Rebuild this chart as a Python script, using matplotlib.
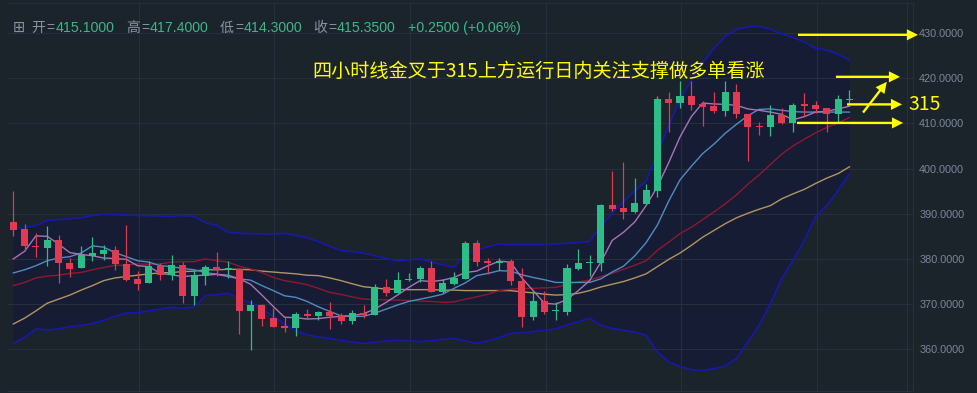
import matplotlib
matplotlib.use("Agg")
import matplotlib.pyplot as plt
import numpy as np
from matplotlib.ticker import FormatStrFormatter

# ---- 4H candles (open / high / low / close) ----
opens = [388.07, 386.52, 382.96, 382.52, 384.30, 379.19, 377.93, 380.67, 381.19, 382.00,
         378.89, 375.63, 374.59, 378.52, 376.37, 378.74, 371.85, 376.30, 378.30, 377.48,
         377.78, 368.52, 369.85, 366.96, 365.19, 364.81, 367.85, 367.41, 368.30, 367.56,
         366.37, 368.00, 367.70, 373.85, 372.37, 375.33, 375.48, 378.00, 372.74, 374.52,
         375.63, 383.63, 379.48, 379.04, 379.63, 375.19, 367.26, 370.74, 368.37, 368.30,
         377.85, 379.04, 379.04, 391.91, 391.18, 390.44, 392.13, 395.07, 415.29, 414.49,
         415.96, 414.34, 413.82, 412.72, 416.84, 412.13, 409.34, 409.19, 411.76, 410.07,
         414.34, 413.97, 413.31, 412.13, 415.10]
highs = [394.96, 387.63, 385.78, 387.19, 385.19, 380.22, 382.96, 384.96, 383.19, 382.96,
         387.41, 377.41, 379.63, 379.04, 380.96, 379.41, 377.56, 378.74, 381.48, 379.63,
         377.78, 370.96, 370.00, 369.04, 367.19, 368.30, 368.96, 368.52, 370.52, 368.07,
         368.67, 369.78, 374.44, 375.63, 377.19, 376.89, 378.52, 379.63, 375.63, 377.19,
         384.07, 384.30, 380.22, 380.22, 379.93, 378.00, 372.89, 372.89, 370.37, 378.96,
         382.22, 380.96, 392.22, 399.41, 401.40, 397.94, 396.54, 416.03, 416.90, 419.34,
         419.34, 414.85, 416.84, 419.34, 418.75, 412.13, 410.22, 413.97, 413.38, 414.49,
         416.76, 414.85, 413.38, 416.18, 417.40]
lows = [385.04, 381.70, 380.50, 378.52, 374.59, 375.93, 377.93, 379.63, 379.85, 377.63,
        375.04, 373.19, 374.59, 375.41, 375.41, 370.30, 369.85, 374.15, 376.30, 375.70,
        363.48, 359.93, 365.19, 365.04, 363.93, 362.96, 366.74, 366.44, 364.59, 365.70,
        365.70, 366.90, 367.70, 371.70, 372.37, 375.11, 374.96, 372.74, 372.44, 374.22,
        375.63, 378.44, 376.67, 377.63, 374.22, 365.04, 366.52, 367.78, 366.52, 367.70,
        377.63, 376.30, 377.41, 390.60, 388.80, 390.20, 392.13, 393.60, 408.10, 413.38,
        412.98, 409.41, 412.28, 411.54, 411.18, 401.69, 407.50, 407.13, 409.93, 408.16,
        411.32, 412.28, 408.16, 410.37, 414.30]
closes = [386.37, 382.81, 382.60, 384.22, 379.04, 377.85, 380.96, 381.41, 382.07, 378.81,
          375.41, 374.52, 378.52, 376.37, 378.74, 371.85, 376.52, 378.30, 377.48, 378.00,
          368.52, 369.85, 366.81, 365.04, 364.74, 367.78, 367.48, 368.30, 367.41, 366.37,
          368.07, 367.70, 373.85, 372.37, 375.41, 375.63, 378.00, 372.74, 374.74, 375.85,
          383.63, 379.33, 379.04, 379.63, 375.04, 367.26, 370.74, 368.30, 368.67, 378.00,
          379.19, 379.33, 391.85, 391.03, 390.44, 392.28, 395.22, 415.29, 414.49, 415.96,
          414.04, 413.60, 412.72, 416.84, 412.13, 409.19, 409.19, 411.76, 410.07, 414.12,
          413.82, 413.24, 412.13, 415.29, 415.35]

# ---- indicator lines ----
ma5 = [380.0, 381.7, 385.1, 385.0, 383.3, 381.4, 381.0, 380.7, 380.2, 380.1,
       379.9, 378.5, 378.3, 376.8, 376.5, 376.1, 376.3, 376.4, 376.6, 376.4,
       375.6, 374.4, 372.0, 369.5, 367.1, 367.0, 366.7, 366.8, 367.1, 367.3,
       367.4, 367.9, 368.9, 370.4, 372.0, 373.7, 375.2, 375.0, 375.3, 375.9,
       377.0, 377.3, 378.5, 379.5, 379.3, 375.8, 373.0, 370.2, 370.0, 371.0,
       373.0, 375.2, 379.3, 384.1, 385.9, 388.2, 391.8, 396.0, 401.3, 407.0,
       411.5, 414.5, 414.3, 414.2, 414.0, 413.2, 412.9, 412.5, 412.0, 410.8,
       411.5, 412.5, 412.7, 413.2, 413.8]
ma10 = [376.9, 377.6, 378.5, 379.6, 380.2, 380.5, 381.3, 382.9, 382.6, 381.4,
        380.5, 379.6, 379.3, 378.5, 378.3, 377.9, 377.6, 377.0, 376.6, 376.1,
        375.6, 375.3, 374.1, 373.0, 371.85, 371.5, 370.6, 369.4, 368.4, 367.4,
        367.3, 367.3, 368.0, 368.9, 369.8, 370.6, 371.1, 371.6, 372.2, 373.5,
        374.7, 376.3, 376.8, 377.4, 377.3, 376.5, 375.9, 375.4, 374.8, 374.8,
        374.8, 374.8, 375.6, 377.1, 378.4, 380.7, 383.6, 387.5, 392.8, 397.5,
        400.5, 403.3, 405.4, 407.8, 409.8, 411.7, 413.1, 413.2, 412.9, 412.6,
        412.5, 412.5, 412.5, 412.5, 412.5]
ma20 = [374.1, 374.8, 375.8, 376.2, 376.4, 376.8, 377.0, 377.6, 378.1, 378.6,
        378.6, 378.9, 378.8, 378.9, 379.3, 379.4, 379.4, 380.0, 379.6, 379.3,
        378.4, 377.8, 377.0, 375.9, 375.2, 374.8, 374.3, 373.5, 372.6, 372.15,
        371.6, 371.1, 371.0, 370.96, 370.9, 370.8, 370.7, 370.6, 370.4, 370.5,
        371.1, 371.6, 372.2, 373.0, 373.3, 373.5, 373.5, 373.6, 373.7, 374.4,
        374.9, 375.3, 376.1, 376.8, 377.7, 378.6, 379.6, 381.9, 383.7, 385.6,
        387.0, 388.7, 390.4, 392.2, 394.2, 396.5, 398.6, 400.9, 403.2, 405.0,
        406.5, 407.9, 409.1, 410.1, 411.3]
ma_long = [365.6, 366.9, 368.5, 370.2, 371.1, 372.0, 373.1, 374.1, 375.2, 375.8,
           376.1, 376.4, 376.7, 376.9, 377.0, 377.2, 377.3, 377.6, 377.6, 377.7,
           377.7, 377.6, 377.3, 377.1, 376.9, 376.7, 376.4, 376.3, 375.8, 375.2,
           374.5, 373.85, 373.6, 373.3, 373.3, 373.2, 373.2, 373.2, 373.1, 373.1,
           373.0, 373.0, 373.0, 373.0, 373.0, 372.7, 372.5, 372.2, 372.0, 372.1,
           372.4, 373.0, 373.8, 374.4, 375.0, 375.8, 376.7, 378.3, 379.9, 381.3,
           383.0, 384.8, 386.3, 387.8, 389.1, 390.1, 391.0, 391.8, 393.3, 394.4,
           395.4, 396.7, 397.9, 398.9, 400.4]
boll_up = [386.67, 387.0, 387.4, 388.5, 388.7, 388.9, 389.1, 389.6, 389.85, 389.8,
           389.7, 389.6, 389.55, 389.5, 389.4, 389.6, 389.4, 388.0, 387.4, 385.9,
           385.7, 385.6, 385.5, 385.5, 385.7, 385.2, 384.7, 383.85, 382.8, 381.85,
           381.6, 381.26, 380.7, 380.1, 379.5, 379.8, 380.0, 379.3, 378.7, 378.15,
           381.0, 382.0, 382.7, 383.3, 383.2, 383.2, 383.2, 383.2, 383.3, 383.5,
           383.6, 383.85, 387.2, 390.2, 392.7, 395.1, 397.2, 403.5, 409.5, 415.3,
           419.5, 423.5, 426.5, 429.3, 430.8, 431.4, 431.5, 430.9, 429.8, 429.0,
           428.0, 426.6, 426.2, 425.3, 424.0]
boll_dn = [361.3, 362.7, 364.5, 364.3, 364.5, 365.0, 365.3, 365.7, 366.4, 367.3,
           368.0, 368.1, 368.5, 368.9, 369.3, 369.1, 369.4, 371.85, 372.1, 372.4,
           371.3, 370.3, 368.9, 367.4, 365.6, 364.1, 363.2, 362.7, 362.4, 362.0,
           361.6, 361.3, 361.55, 361.85, 362.0, 361.85, 361.7, 361.9, 362.2, 362.4,
           361.85, 361.3, 361.85, 362.6, 363.5, 363.7, 363.9, 364.2, 364.5, 365.4,
           366.1, 366.9, 365.3, 364.6, 364.2, 363.8, 363.1, 359.4, 357.2, 356.2,
           355.5, 355.3, 355.7, 356.3, 358.0, 361.6, 365.3, 370.1, 375.6, 379.7,
           384.1, 389.3, 391.8, 395.2, 398.9]

price_ticks = [360, 370, 380, 390, 400, 410, 420, 430]
header_items = [("开", "415.1000"), ("高", "417.4000"), ("低", "414.3000"), ("收", "415.3500")]
change_text = "+0.2500 (+0.06%)"
note_text = "四小时线金叉于315上方运行日内关注支撑做多单看涨"
level_text = "315"

# ---- style ----
BG = "#1b232b"
GRID = "#252f3e"
UP = "#2dbd86"
DOWN = "#e23a50"
YELLOW = "#ffff00"
GREY = "#8a93a5"
GREEN_TXT = "#3fb68b"
CJK = ["Liberation Sans", "Noto Sans CJK SC", "DejaVu Sans"]

W, H = 978, 393
fig = plt.figure(figsize=(W / 100, H / 100), dpi=100, facecolor=BG)
ax = fig.add_axes([8 / W, (H - 390.7) / H, (913 - 8) / W, (390.7 - 3) / H])
ax.set_facecolor(BG)

x = np.arange(len(closes))
ax.set_xlim(-0.47, 79.62)
ax.set_ylim(350.84, 436.64)

# grid
for p in price_ticks:
    ax.axhline(p, color=GRID, lw=0.8, zorder=1)
for gx in np.arange(11.1, 75, 12):
    ax.axvline(gx, color=GRID, lw=0.8, zorder=1)
ax.axvline(79.1, color=GRID, lw=0.8, zorder=1)

# Bollinger band
ax.fill_between(x, boll_dn, boll_up, color="#161c33", lw=0, zorder=0.5)
ax.plot(x, boll_up, color="#1818ac", lw=1.2, zorder=2)
ax.plot(x, boll_dn, color="#1818ac", lw=1.2, zorder=2)

# moving averages
ax.plot(x, ma_long, color="#b39560", lw=1.0, zorder=2)
ax.plot(x, ma20, color="#8e1830", lw=1.0, zorder=2)
ax.plot(x, ma10, color="#4f8cc4", lw=1.0, zorder=2)
ax.plot(x, ma5, color="#a974b5", lw=1.0, zorder=2)

# candles
o = np.array(opens); c = np.array(closes)
hi = np.array(highs); lo = np.array(lows)
cols = np.where(c >= o, UP, DOWN)
ax.vlines(x, lo, hi, colors=cols, lw=0.9, zorder=3)
bottom = np.minimum(o, c)
height = np.maximum(np.abs(c - o), 0.3)
ax.bar(x, height, bottom=bottom, width=0.62, color=cols, lw=0, zorder=4)

# axes cosmetics
ax.spines["left"].set_visible(False)
for side in ("top", "bottom", "right"):
    ax.spines[side].set_color(GRID)
    ax.spines[side].set_linewidth(0.8)
ax.set_xticks([])
ax.yaxis.tick_right()
ax.set_yticks(price_ticks)
ax.yaxis.set_major_formatter(FormatStrFormatter("%.4f"))
ax.tick_params(axis="y", length=0, pad=4.5, labelsize=7.8, labelcolor="#7d879a")
for lab in ax.get_yticklabels():
    lab.set_fontfamily("Liberation Sans")

# header line
def fx(px):
    return px / W

def fy(py):
    return 1 - py / H

base = fy(31.7)
fig.text(fx(12.5), base, "⊞", color=GREY, fontsize=10.5, family="DejaVu Sans", va="baseline")
label_x = [31.7, 126.0, 220.0, 313.3]
for (lab, val), lx in zip(header_items, label_x):
    fig.text(fx(lx), base, lab, color=GREY, fontsize=10, family=CJK, va="baseline")
    fig.text(fx(lx + 15.0), base, "=", color=GREY, fontsize=10, family=CJK, va="baseline")
    fig.text(fx(lx + 23.5), base, val, color=GREEN_TXT, fontsize=10.2, family=CJK, va="baseline")
fig.text(fx(408.3), base, change_text, color=GREEN_TXT, fontsize=10.2, family=CJK, va="baseline")

# commentary
fig.text(fx(312), fy(71), note_text, color=YELLOW, fontsize=13.8,
         family=["Noto Sans CJK SC", "DejaVu Sans"], va="center", ha="left")

# arrows toward price levels
arrow_style = "simple,head_length=0.8,head_width=0.8,tail_width=0.17"
arrows = [((69.44, 429.6), (80.06, 429.6)),
          ((72.8, 420.3), (78.47, 420.3)),
          ((75.2, 412.4), (77.3, 419.2)),
          ((73.78, 414.2), (78.65, 414.2)),
          ((69.35, 410.1), (78.74, 410.1))]
for tail, tip in arrows:
    ax.annotate("", xy=tip, xytext=tail, annotation_clip=False,
                arrowprops=dict(arrowstyle=arrow_style, color=YELLOW, lw=0,
                                shrinkA=0, shrinkB=0, mutation_scale=10, clip_on=False),
                zorder=6)
ax.text(79.18, 414.2, level_text, color=YELLOW, fontsize=14,
        family=["Noto Sans CJK SC", "DejaVu Sans"], va="center", ha="left",
        clip_on=False, zorder=6)

fig.savefig("out.png", dpi=100, facecolor=BG)
